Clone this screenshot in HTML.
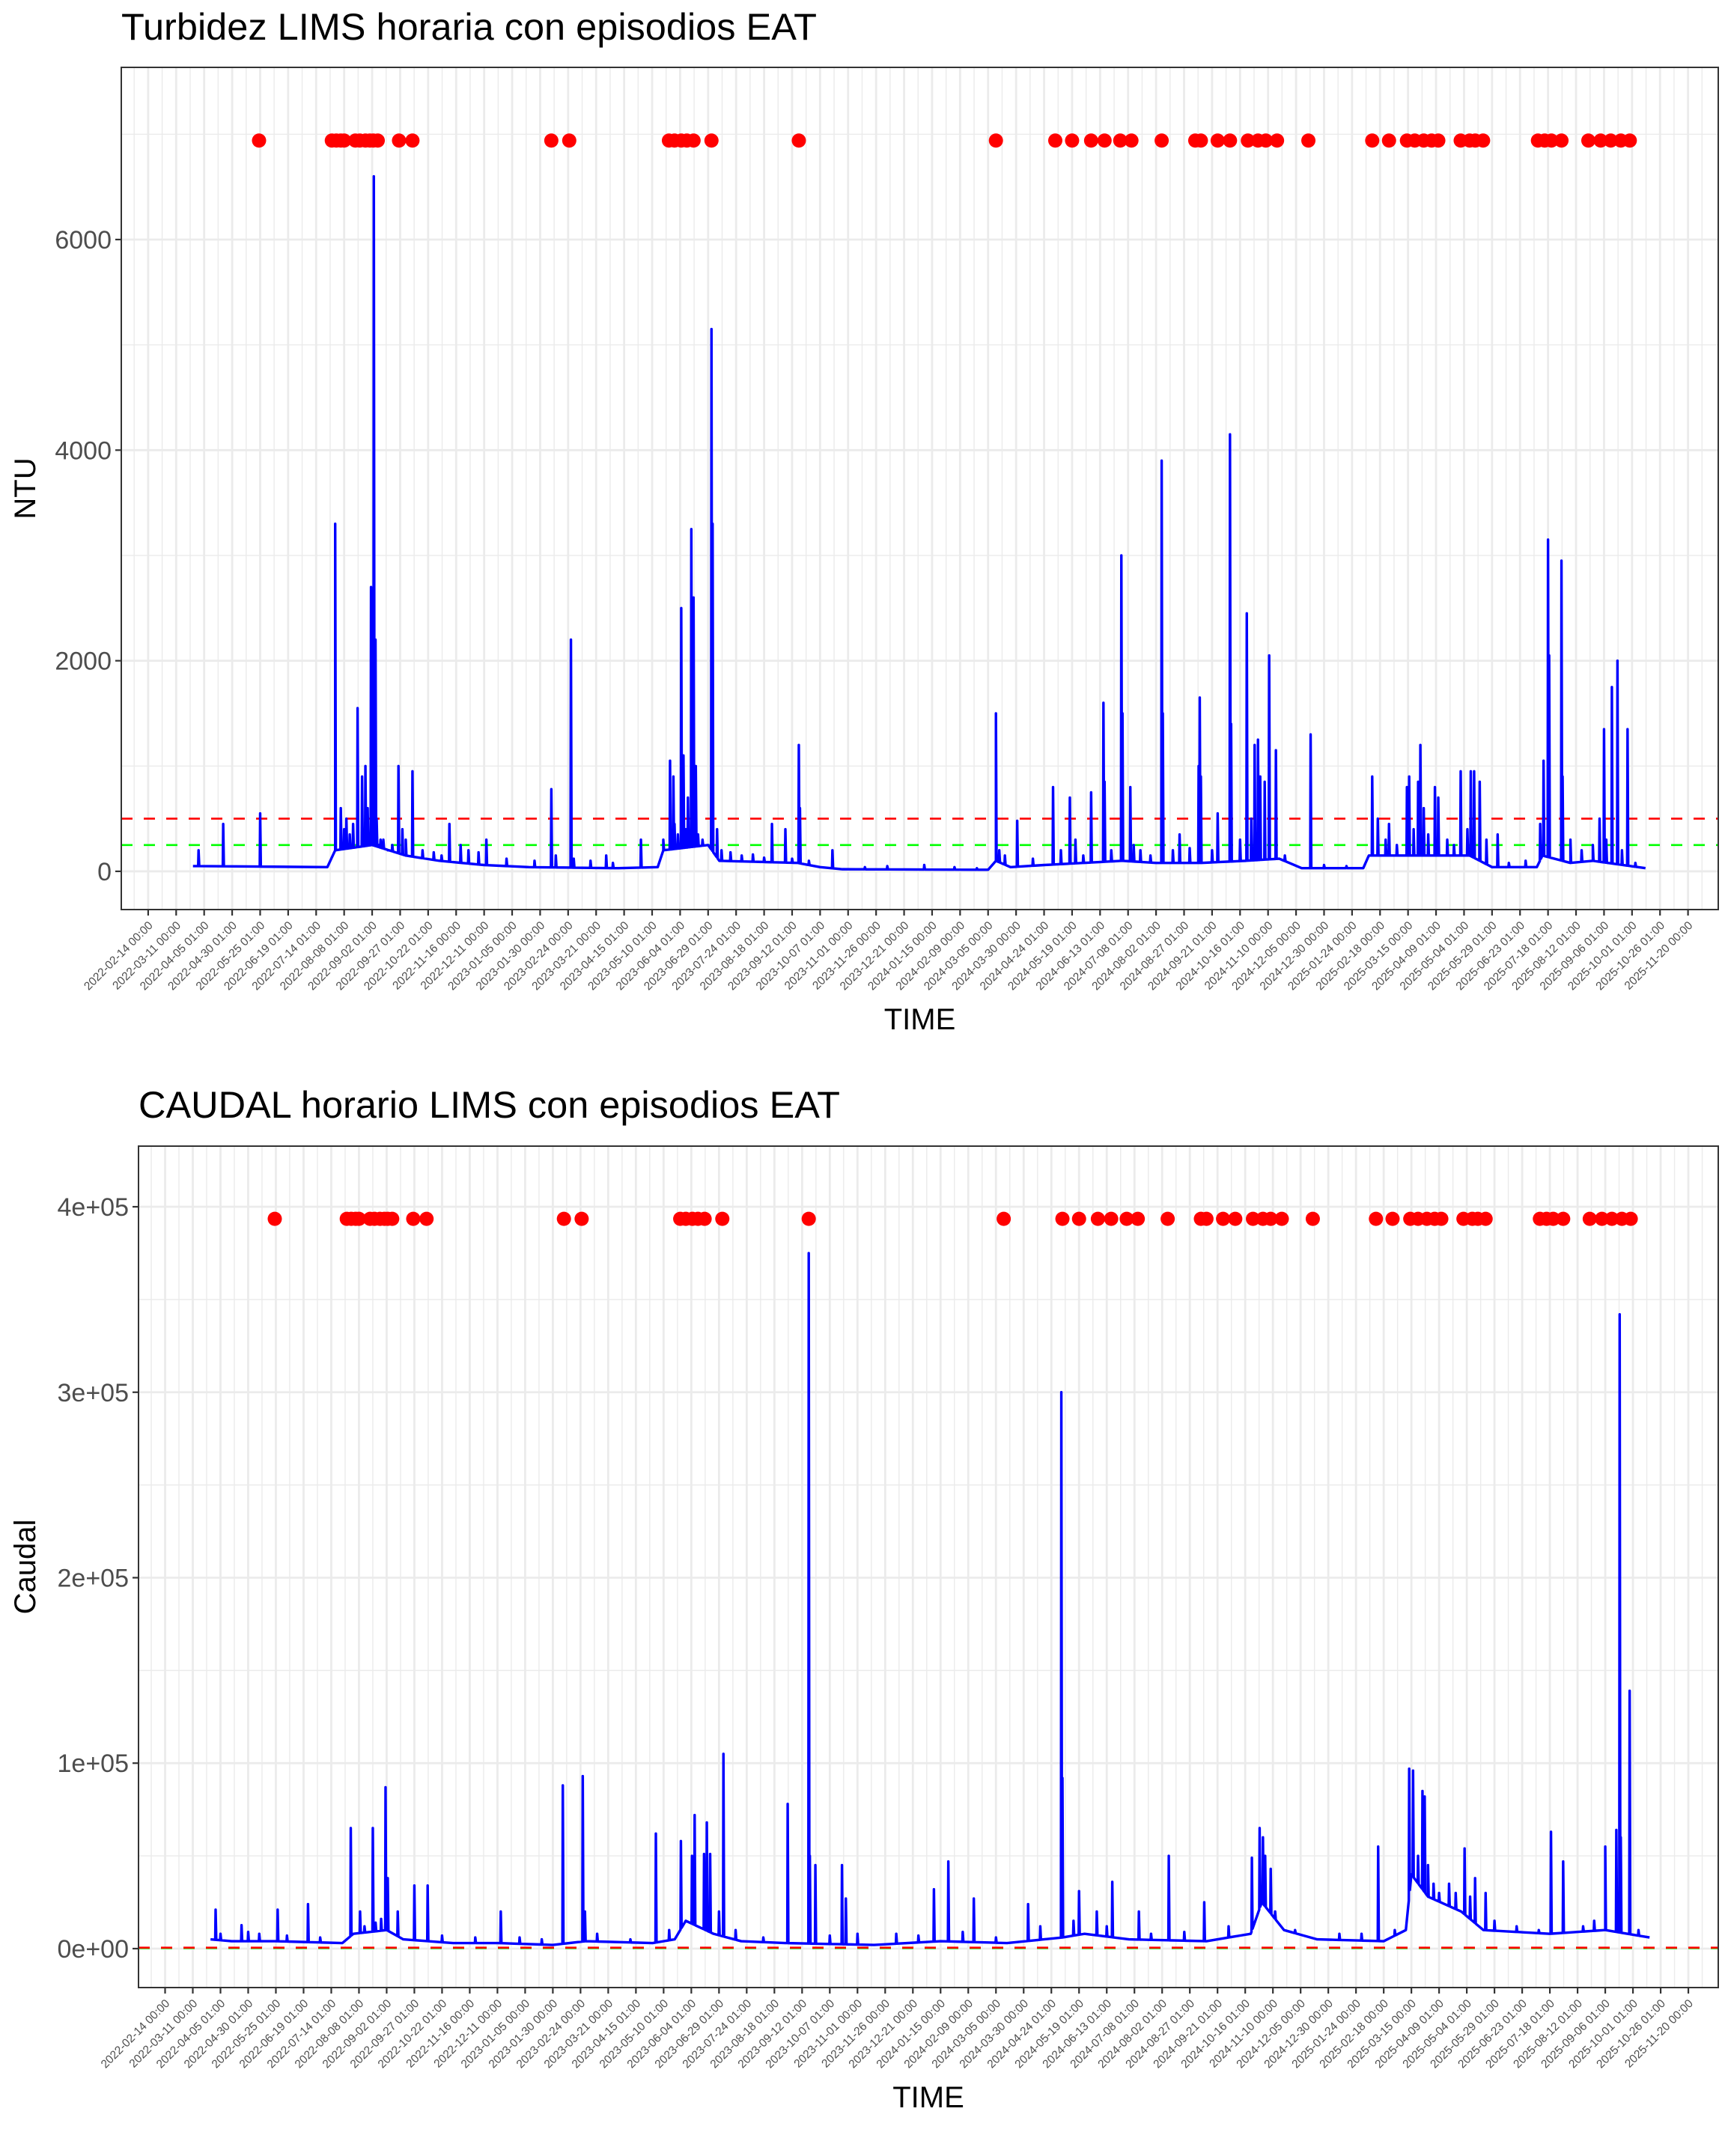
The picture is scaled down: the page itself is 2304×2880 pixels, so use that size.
<!DOCTYPE html>
<html><head><meta charset="utf-8"><style>
html,body{margin:0;padding:0;background:#fff;}
svg{display:block;font-family:"Liberation Sans",Arial,sans-serif;}
</style></head><body>
<svg id="chart" width="2304" height="2880" viewBox="0 0 2304 2880" xmlns="http://www.w3.org/2000/svg">
<rect width="2304" height="2880" fill="#fff"/>
<g id="p1"></g>
<g id="p2"></g>
</svg>
<script>
// ---- shared x-axis data (days since 2022-02-14) ----
const tickLabels = ["2022-02-14 00:00","2022-03-11 00:00","2022-04-05 01:00","2022-04-30 01:00","2022-05-25 01:00","2022-06-19 01:00","2022-07-14 01:00","2022-08-08 01:00","2022-09-02 01:00","2022-09-27 01:00","2022-10-22 01:00","2022-11-16 00:00","2022-12-11 00:00","2023-01-05 00:00","2023-01-30 00:00","2023-02-24 00:00","2023-03-21 00:00","2023-04-15 01:00","2023-05-10 01:00","2023-06-04 01:00","2023-06-29 01:00","2023-07-24 01:00","2023-08-18 01:00","2023-09-12 01:00","2023-10-07 01:00","2023-11-01 00:00","2023-11-26 00:00","2023-12-21 00:00","2024-01-15 00:00","2024-02-09 00:00","2024-03-05 00:00","2024-03-30 00:00","2024-04-24 01:00","2024-05-19 01:00","2024-06-13 01:00","2024-07-08 01:00","2024-08-02 01:00","2024-08-27 01:00","2024-09-21 01:00","2024-10-16 01:00","2024-11-10 00:00","2024-12-05 00:00","2024-12-30 00:00","2025-01-24 00:00","2025-02-18 00:00","2025-03-15 00:00","2025-04-09 01:00","2025-05-04 01:00","2025-05-29 01:00","2025-06-23 01:00","2025-07-18 01:00","2025-08-12 01:00","2025-09-06 01:00","2025-10-01 01:00","2025-10-26 01:00","2025-11-20 00:00"];
const tickDays = [0,25,50,75,100,125,150,175,200,225,250,275,300,325,350,375,400,425,450,475,500,525,550,575,600,625,650,675,700,725,750,775,800,825,850,875,900,925,950,975,1000,1025,1050,1075,1100,1125,1150,1175,1200,1225,1250,1275,1300,1325,1350,1375];
// episode (EAT) dates
const eventDays = [99,164,168,172,175,185,189,194,198,201,205,224,236,360,376,465,470,476,481,487,503,581,757,810,825,842,854,868,878,905,935,940,955,966,982,991,998,1008,1036,1093,1108,1124,1131,1139,1146,1152,1172,1180,1185,1192,1241,1247,1253,1262,1286,1297,1306,1315,1323];

// ---- turbidity (NTU) ----
const turbBaseDays = [40,160,167,200,230,260,300,340,420,455,460,500,510,580,600,620,750,757,770,800,870,900,940,980,1010,1030,1085,1090,1180,1200,1240,1245,1270,1290,1337];
const turbBaseVals = [50,40,200,250,150,100,60,40,30,40,200,250,100,80,40,20,15,100,40,60,100,80,80,100,120,30,30,150,150,40,40,150,80,100,30];
const turbSpikeDays = [45,67,100,167,172,177,187,191,194,199,200,201.5,203,204,207.5,223.5,227,236,269,279,302,360,364,377.5,409,440,460,466,469,476,478,482,485,487,489,503,504,508,557,569,581,582,611,693,757,760,776,808,823,828,842,853,854,869,870,877,886,905,906,921,938,939,940,955,966,967,981,988,991,993,997,1001,1007,1038,1093,1098,1108,1124,1126,1134,1136,1139,1149,1152,1172,1181,1184,1189,1205,1243,1246,1250,1251,1262,1263,1296,1300,1307,1312,1321,
  175,180,183,196,206,210,214,218,230,245,255,262,286,295,320,345,380,395,415,470,473,480,491,495,512,520,530,540,550,575,590,640,660,720,740,765,790,815,835,860,880,895,915,930,950,975,985,1015,1050,1070,1105,1115,1130,1143,1160,1166,1178,1195,1215,1230,1270,1280,1290,1302,1316,1328];
const turbSpikeVals = [200,450,550,3300,600,500,1550,900,1000,2700,2100,6600,2200,500,300,1000,400,950,450,250,300,780,150,2200,150,300,300,1050,900,2500,1100,700,3250,2600,1000,5150,3300,400,450,400,1200,600,200,60,1500,200,480,800,700,300,750,1600,850,3000,1500,800,200,3900,1500,350,1000,1650,900,550,4150,1400,2450,1200,1250,900,850,2050,1150,1300,900,500,450,800,900,850,1200,600,800,700,950,950,950,850,350,450,1050,3150,2050,2950,900,500,1350,1750,2000,1350,
  400,350,450,600,250,300,200,250,300,200,180,150,200,180,120,100,120,100,80,450,350,400,350,300,200,180,150,160,130,120,100,40,50,40,30,150,120,200,150,200,250,150,200,220,200,300,500,150,60,50,300,250,400,350,300,250,400,300,80,100,300,200,250,300,200,80];
const turbYTicks = [0,2000,4000,6000];
const turbYTickLabels = ["0","2000","4000","6000"];
const turbYMinor = [1000,3000,5000,7000];
const turbThresholds = [500,250];

// ---- flow (Caudal) ----
const flowBaseDays = [41,60,100,160,170,200,215,260,300,350,380,440,460,470,495,520,560,640,700,760,810,830,870,940,980,990,1010,1040,1100,1120,1125,1140,1170,1190,1250,1300,1340];
const flowBaseVals = [5000,4000,4000,3000,8000,10000,5000,3000,3000,2000,4000,3000,5000,15000,8000,4000,3000,2000,4000,3000,6000,8000,5000,4000,8000,25000,10000,5000,4000,10000,40000,28000,20000,10000,8000,10000,6000];
const flowSpikeDays = [45.6,69,101.6,129,167.6,176,187.5,195,199,201,225,237,303,359,377,379,443,465.6,475.6,478,486.5,489,492,504,562,581,582,587,611,614.5,694,707,730,779,809,810,825,841,855,879,906,938,981,988,991,993,998,1095,1123,1126.5,1131,1135,1137,1140,1159,1173,1182.5,1192,1251,1262,1300,1310,1313,1314,1322,
  50,75,85,110,140,180,190,210,250,280,320,340,390,420,455,500,515,540,600,625,660,680,720,750,790,820,850,890,920,960,1002,1020,1060,1080,1110,1145,1150,1165,1178,1200,1220,1240,1280,1290,1330];
const flowSpikeVals = [21000,12600,21000,24000,65000,20000,65000,16000,87000,38000,34000,34000,20000,88000,93000,20000,62000,58000,50000,72000,51000,68000,51000,105000,78000,375000,50000,45000,45000,27000,32000,47000,27000,24000,300000,92000,31000,20000,36000,20000,50000,25000,49000,65000,60000,50000,43000,55000,97000,96000,50000,85000,82000,45000,35000,54000,38000,30000,63000,47000,55000,64000,342000,60000,139000,
  8000,9000,8000,7000,6000,12000,14000,20000,7000,6000,6000,5000,8000,5000,10000,20000,10000,6000,7000,8000,8000,7000,9000,6000,12000,15000,12000,8000,9000,12000,20000,10000,8000,8000,10000,35000,30000,30000,28000,15000,12000,10000,12000,15000,10000];
const flowYTicks = [0,100000,200000,300000,400000];
const flowYTickLabels = ["0e+00","1e+05","2e+05","3e+05","4e+05"];
const flowYMinor = [50000,150000,250000,350000];
const flowThresholds = [250,500];

const NS = "http://www.w3.org/2000/svg";
const X_DOMAIN = [-24, 1402];
function mk(parent, tag, attrs) {
  const e = document.createElementNS(NS, tag);
  for (const k in attrs) e.setAttribute(k, attrs[k]);
  parent.appendChild(e);
  return e;
}
function baseAt(days, vals, d) {
  if (d <= days[0]) return vals[0];
  for (let i = 1; i < days.length; i++) {
    if (d <= days[i]) { const t = (d - days[i-1]) / (days[i] - days[i-1]); return vals[i-1] + t * (vals[i] - vals[i-1]); }
  }
  return vals[vals.length - 1];
}
function buildSeries(bd, bv, sd, sv) {
  const pts = [];
  for (let i = 0; i < bd.length; i++) pts.push([bd[i], bv[i]]);
  for (let i = 0; i < sd.length; i++) {
    pts.push([sd[i] - 0.35, baseAt(bd, bv, sd[i] - 0.35)]);
    pts.push([sd[i], sv[i]]);
    pts.push([sd[i] + 0.6, baseAt(bd, bv, sd[i] + 0.6)]);
  }
  pts.sort((a, b) => a[0] - b[0]);
  return pts;
}

function drawPanel(g, cfg) {
  const sx = d => cfg.left + (d - X_DOMAIN[0]) / (X_DOMAIN[1] - X_DOMAIN[0]) * (cfg.right - cfg.left);
  const sy = v => cfg.bottom - (v - cfg.y0) / (cfg.y1 - cfg.y0) * (cfg.bottom - cfg.top);
  const grid = mk(g, 'g', {});
  
  
  const minorX = [tickDays[0] - 12.5].concat(tickDays.map(d => d + 12.5));
  minorX.forEach(d => { if (d > X_DOMAIN[0] && d < X_DOMAIN[1]) { const l = mk(grid, 'line', {x1: sx(d), x2: sx(d), y1: cfg.top, y2: cfg.bottom, stroke: '#ebebeb', 'stroke-width': 1.4});
      } });
  cfg.yMinor.forEach(v => { const l = mk(grid, 'line', {x1: cfg.left, x2: cfg.right, y1: sy(v), y2: sy(v), stroke: '#ebebeb', 'stroke-width': 1.4});
      });
  tickDays.forEach(d => { const l = mk(grid, 'line', {x1: sx(d), x2: sx(d), y1: cfg.top, y2: cfg.bottom, stroke: '#ebebeb', 'stroke-width': 2.8});
      });
  cfg.yTicks.forEach(v => { const l = mk(grid, 'line', {x1: cfg.left, x2: cfg.right, y1: sy(v), y2: sy(v), stroke: '#ebebeb', 'stroke-width': 2.8});
      });

  cfg.thresholds.forEach((v, i) => {
    const l = mk(g, 'line', {x1: cfg.left, x2: cfg.right, y1: sy(v), y2: sy(v), stroke: cfg.thrColors[i], 'stroke-width': 2.6, 'stroke-dasharray': '15 15'});
    
    
  });

  const pts = buildSeries(cfg.bd, cfg.bv, cfg.sd, cfg.sv);
  let dstr = '';
  pts.forEach((p, i) => { dstr += (i ? 'L' : 'M') + sx(p[0]).toFixed(2) + ',' + sy(p[1]).toFixed(2); });
  const path = mk(g, 'path', {d: dstr, fill: 'none', stroke: '#0000ff', 'stroke-width': 3.4, 'stroke-linejoin': 'round'});
  
  

  const dots = mk(g, 'g', {});
  
  
  eventDays.forEach(d => {
    const c = mk(dots, 'circle', {cx: sx(d), cy: sy(cfg.dotVal), r: 9.5, fill: '#ff0000'});
    
    
  });

  const b = mk(g, 'rect', {x: cfg.left, y: cfg.top, width: cfg.right - cfg.left, height: cfg.bottom - cfg.top, fill: 'none', stroke: '#333333', 'stroke-width': 2});
  
  

  cfg.yTicks.forEach((v, i) => {
    const t = mk(g, 'line', {x1: cfg.left - 8, x2: cfg.left, y1: sy(v), y2: sy(v), stroke: '#333333', 'stroke-width': 2.2});
     
    const tx = mk(g, 'text', {x: cfg.left - 13, y: sy(v) + 12, 'text-anchor': 'end', 'font-size': 34, fill: '#4d4d4d'});
    tx.textContent = cfg.yLabels[i];
     
  });
  tickDays.forEach((d, i) => {
    const x = sx(d);
    const t = mk(g, 'line', {x1: x, x2: x, y1: cfg.bottom, y2: cfg.bottom + 8, stroke: '#333333', 'stroke-width': 2.2});
     
    const ax = x + 7, ay = cfg.bottom + 22;
    const tx = mk(g, 'text', {x: ax, y: ay, 'text-anchor': 'end', 'font-size': 15.5, fill: '#4d4d4d', transform: 'rotate(-45 ' + ax + ' ' + ay + ')'});
    tx.textContent = tickLabels[i];
     
  });
  const tt = mk(g, 'text', {x: cfg.left, y: cfg.titleY, 'font-size': 50, fill: '#000', textLength: cfg.titleLen, lengthAdjust: 'spacingAndGlyphs'});
  tt.textContent = cfg.title;
   
  const xt = mk(g, 'text', {x: (cfg.left + cfg.right) / 2, y: cfg.xTitleY, 'text-anchor': 'middle', 'font-size': 40, fill: '#000'});
  xt.textContent = 'TIME';
   
  const cy = (cfg.top + cfg.bottom) / 2;
  const yt = mk(g, 'text', {x: 47, y: cy, 'text-anchor': 'middle', 'font-size': 40, fill: '#000', transform: 'rotate(-90 47 ' + cy + ')'});
  yt.textContent = cfg.yTitle;
   
}

drawPanel(document.getElementById('p1'), {
  id: 'turbidity', left: 162, right: 2295, top: 90, bottom: 1215, y0: -363, y1: 7635,
  yTicks: turbYTicks, yLabels: turbYTickLabels, yMinor: turbYMinor,
  thresholds: turbThresholds, thrColors: ['#ff0000', '#00ff00'],
  bd: turbBaseDays, bv: turbBaseVals, sd: turbSpikeDays, sv: turbSpikeVals, dotVal: 6940,
  title: 'Turbidez LIMS horaria con episodios EAT', titleY: 53, titleLen: 929,
  xTitleY: 1375, yTitle: 'NTU'
});
drawPanel(document.getElementById('p2'), {
  id: 'flow', left: 185, right: 2295, top: 1531, bottom: 2655, y0: -21000, y1: 432700,
  yTicks: flowYTicks, yLabels: flowYTickLabels, yMinor: flowYMinor,
  thresholds: flowThresholds, thrColors: ['#00ff00', '#ff0000'],
  bd: flowBaseDays, bv: flowBaseVals, sd: flowSpikeDays, sv: flowSpikeVals, dotVal: 393500,
  title: 'CAUDAL horario LIMS con episodios EAT', titleY: 1493, titleLen: 937,
  xTitleY: 2815, yTitle: 'Caudal'
});
</script>
</body></html>
